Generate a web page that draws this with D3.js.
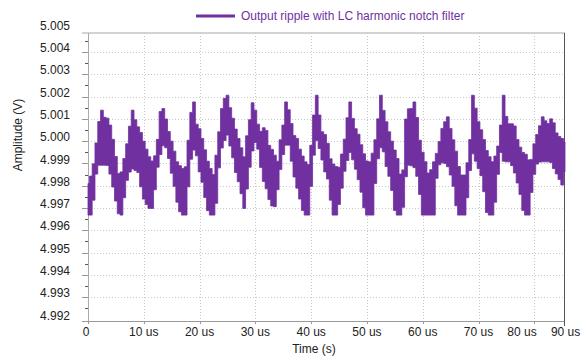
<!DOCTYPE html>
<html>
<head>
<meta charset="utf-8">
<script src="https://cdn.jsdelivr.net/npm/d3@7"></script>
<style>
  body { margin: 0; background: #fff; }
  text { font-family: "Liberation Sans", Arial, sans-serif; }
</style>
</head>
<body>
<script>
// ripple envelope, sampled every 0.5 us, in mV away from 5.000 V
const nominal = 5.000;
const sampleStep = 0.5;
const upperMv = [
  -1.90, -1.57, -1.02, -0.08, 0.88, 1.39, 1.07, 1.03, 0.72, 0.08,
  -0.69, -1.45, -1.38, -0.78, -0.12, 0.67, 1.39, 0.96, 0.64, 0.39,
  0.00, -0.36, -0.70, -0.89, -0.66, 0.08, 1.33, 1.46, 0.99, 0.43,
  0.00, -0.45, -0.93, -1.10, -1.23, -1.15, 0.04, 1.29, 1.76, 0.76,
  0.56, 0.12, -0.39, -0.90, -1.23, -1.50, -0.63, 0.42, 1.46, 1.92,
  2.06, 1.50, 1.03, 0.54, 0.12, -0.30, -0.70, 0.24, 0.96, 1.72,
  1.39, 0.76, 0.44, 0.60, 0.48, -0.19, -0.37, -0.63, -0.90, 0.06,
  0.72, 1.76, 1.41, 0.79, 0.25, 0.12, -0.36, -0.67, -0.93, -1.05,
  -0.19, 1.17, 2.06, 1.17, 0.42, 0.30, -0.10, -0.79, -1.03, -1.14,
  -1.17, -0.58, 0.09, 1.05, 1.76, 1.02, 0.56, 0.31, -0.16, -0.57,
  -0.89, -0.93, -0.54, 0.06, 1.00, 2.06, 1.38, 0.87, 0.42, 0.00,
  -0.40, -0.78, -1.48, -1.29, 0.99, 1.45, 1.46, 1.76, 1.06, 0.04,
  -0.50, -0.92, -1.43, -1.28, -0.93, -0.55, -0.02, 0.57, 0.87, 1.09,
  0.57, 0.06, -0.45, -1.14, -1.52, -1.52, -0.97, 0.07, 2.06, 1.48,
  0.87, 0.51, 0.07, -0.42, -0.70, -0.92, -0.67, -0.22, 0.72, 2.06,
  1.11, 0.78, 0.78, 0.68, 0.07, -0.27, -0.51, -0.59, -0.84, -0.82,
  -0.12, 0.30, 0.69, 1.09, 0.91, 0.79, 1.00, 0.82, 0.37, 0.21,
  0.12, -0.03
];
const lowerMv = [
  -3.32, -3.32, -2.65, -1.48, -1.08, -1.08, -1.08, -1.09, -1.48, -2.06,
  -2.69, -3.26, -3.32, -2.54, -1.76, -1.39, -1.25, -1.32, -1.41, -2.05,
  -2.60, -2.84, -3.02, -3.02, -2.18, -1.17, -0.60, -0.21, -0.30, -0.78,
  -1.44, -2.03, -2.74, -3.17, -3.32, -3.32, -2.05, -0.81, -0.40, -0.66,
  -1.38, -1.85, -2.53, -3.12, -3.32, -3.32, -2.79, -1.20, -0.31, 0.03,
  0.27, -0.22, -0.75, -1.41, -1.82, -2.36, -3.02, -2.15, -1.17, -0.44,
  -0.06, -0.36, -1.18, -1.81, -2.14, -2.62, -2.91, -2.94, -2.18, -1.27,
  -0.60, -0.18, -0.18, -0.90, -1.61, -2.11, -2.60, -3.11, -3.32, -3.32,
  -2.03, -0.63, 0.03, -0.33, -0.85, -1.38, -1.70, -2.65, -3.32, -3.32,
  -2.84, -2.11, -1.35, -0.87, -0.51, -0.84, -1.26, -1.73, -2.29, -2.99,
  -3.32, -3.32, -3.32, -1.90, -0.79, -0.30, -0.48, -1.14, -1.58, -2.21,
  -3.11, -3.32, -3.32, -2.97, -1.60, -1.08, -1.11, -1.19, -1.58, -2.39,
  -3.32, -3.32, -3.32, -3.32, -3.32, -1.67, -1.06, -0.97, -1.00, -1.15,
  -1.52, -2.03, -2.90, -3.32, -3.32, -3.32, -2.54, -1.32, -0.57, -0.90,
  -1.23, -1.55, -2.27, -3.20, -3.32, -3.32, -2.74, -1.49, -0.51, -0.90,
  -0.93, -0.93, -1.10, -1.43, -1.88, -2.39, -3.11, -3.32, -3.32, -2.30,
  -1.49, -1.03, -0.94, -0.93, -0.93, -0.93, -0.96, -1.23, -1.47, -1.72,
  -1.97, -1.38
];
const yTickLabels = ["5.005", "5.004", "5.003", "5.002", "5.001", "5.000", "4.999",
                     "4.998", "4.997", "4.996", "4.995", "4.994", "4.993", "4.992"];
const xGridValues = [0, 10, 20, 30, 40, 50, 60, 70, 80];
const xTickLabels = ["0", "10 us", "20 us", "30 us", "40 us", "50 us", "60 us", "70 us", "80 us", "90 us"];
const xTickAt = [0, 10, 20, 30, 40, 50, 60, 70, 77.8, 85.6];
const seriesName = "Output ripple with LC harmonic notch filter";

(function() {
    const purple = "#7030a0";
    const W = 581, H = 356;
    const pLeft = 88, pRight = 565, pTop = 33, pBottom = 321;

    const svg = d3.select("body").append("svg")
        .attr("width", W)
        .attr("height", H);

    const x = d3.scaleLinear().domain([0, 85.5]).range([pLeft, pRight]);
    const y = d3.scaleLinear().domain([4.992, 5.004]).range([319.4, 52]);

    const samples = upperMv.map((u, i) => ({
        t: i * sampleStep,
        hi: nominal + u / 1000,
        lo: nominal + lowerMv[i] / 1000
    }));

    // grid
    const yGrid = d3.range(4.993, 5.0045, 0.001);
    svg.append("g").selectAll("line")
        .data(yGrid)
        .enter().append("line")
        .attr("x1", pLeft - 6).attr("x2", pRight)
        .attr("y1", d => Math.round(y(d)) + 0.5).attr("y2", d => Math.round(y(d)) + 0.5)
        .attr("stroke", "#c8c8c8")
        .attr("stroke-dasharray", "1,2");
    svg.append("g").selectAll("line")
        .data(yGrid)
        .enter().append("line")
        .attr("x1", pLeft - 6).attr("x2", pLeft)
        .attr("y1", d => Math.round(y(d)) + 0.5).attr("y2", d => Math.round(y(d)) + 0.5)
        .attr("stroke", "#999");
    // minor ticks between grid lines
    svg.append("g").selectAll("line")
        .data(d3.range(4.9925, 5.0047, 0.001))
        .enter().append("line")
        .attr("x1", pLeft - 3).attr("x2", pLeft)
        .attr("y1", d => Math.round(y(d)) + 0.5).attr("y2", d => Math.round(y(d)) + 0.5)
        .attr("stroke", "#555");

    svg.append("g").selectAll("line")
        .data(xGridValues.slice(1))
        .enter().append("line")
        .attr("x1", d => Math.round(x(d)) + 0.5).attr("x2", d => Math.round(x(d)) + 0.5)
        .attr("y1", pTop).attr("y2", pBottom)
        .attr("stroke", "#c8c8c8")
        .attr("stroke-dasharray", "1,2");

    // frame
    svg.append("line")
        .attr("x1", pLeft - 6).attr("x2", pRight)
        .attr("y1", pTop).attr("y2", pTop)
        .attr("stroke", "#c4c4c4").attr("stroke-width", 1.5);
    svg.append("line")
        .attr("x1", pLeft + 0.5).attr("x2", pLeft + 0.5)
        .attr("y1", pTop).attr("y2", pBottom)
        .attr("stroke", "#aaa");
    svg.append("line")
        .attr("x1", pLeft - 6).attr("x2", pRight)
        .attr("y1", pBottom + 0.5).attr("y2", pBottom + 0.5)
        .attr("stroke", "#999");
    svg.append("line")
        .attr("x1", pRight - 0.5).attr("x2", pRight - 0.5)
        .attr("y1", pTop).attr("y2", pBottom + 5)
        .attr("stroke", "#555");
    svg.append("g").selectAll("line")
        .data(xGridValues)
        .enter().append("line")
        .attr("x1", d => Math.round(x(d)) + 0.5).attr("x2", d => Math.round(x(d)) + 0.5)
        .attr("y1", pBottom).attr("y2", pBottom + 3)
        .attr("stroke", "#999");

    // ripple band
    const area = d3.area()
        .x(d => x(d.t))
        .y0(d => y(d.lo))
        .y1(d => y(d.hi))
        .curve(d3.curveStep);
    svg.append("path")
        .datum(samples)
        .attr("d", area)
        .attr("fill", purple)
        .attr("stroke", purple)
        .attr("stroke-width", 0.8);

    // y labels
    svg.append("g").selectAll("text")
        .data(yTickLabels)
        .enter().append("text")
        .attr("x", 70)
        .attr("y", d => y(+d) - 4)
        .attr("dy", "0.35em")
        .attr("text-anchor", "end")
        .style("font-size", "12px")
        .attr("fill", "#222")
        .text(d => d);

    // x labels
    svg.append("g").selectAll("text")
        .data(xTickLabels)
        .enter().append("text")
        .attr("x", (d, i) => x(xTickAt[i]) - (i === 0 ? 2 : 0))
        .attr("y", 332)
        .attr("dy", "0.35em")
        .attr("text-anchor", "middle")
        .style("font-size", "12px")
        .attr("fill", "#222")
        .text(d => d);

    svg.append("text")
        .attr("transform", "translate(18,135)rotate(-90)")
        .attr("dy", "0.35em")
        .attr("text-anchor", "middle")
        .style("font-size", "12px")
        .attr("fill", "#222")
        .text("Amplitude (V)");
    svg.append("text")
        .attr("x", 314)
        .attr("y", 349)
        .attr("dy", "0.35em")
        .attr("text-anchor", "middle")
        .style("font-size", "12px")
        .attr("fill", "#222")
        .text("Time (s)");

    // legend
    svg.append("line")
        .attr("x1", 196).attr("x2", 235)
        .attr("y1", 16).attr("y2", 16)
        .attr("stroke", purple).attr("stroke-width", 3);
    svg.append("text")
        .attr("x", 241)
        .attr("y", 16)
        .attr("dy", "0.35em")
        .style("font-size", "12px")
        .attr("fill", purple)
        .text(seriesName);
})();
</script>
</body>
</html>
